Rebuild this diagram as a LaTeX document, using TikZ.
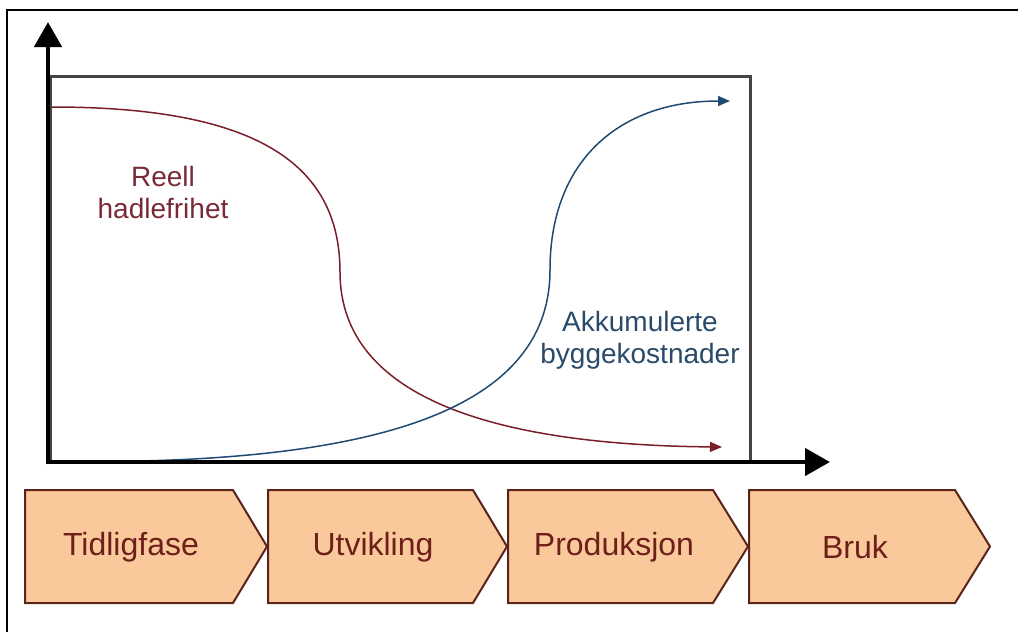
\documentclass[tikz,border=0pt]{standalone}
\usepackage{fontspec}
\setmainfont{Liberation Sans}
\usetikzlibrary{arrows.meta}
\definecolor{chevfill}{HTML}{F9C99C}
\definecolor{chevline}{HTML}{5A2418}
\definecolor{chevtext}{HTML}{6E1F1A}
\definecolor{redcurve}{HTML}{7A1E2A}
\definecolor{bluecurve}{HTML}{1F4A72}
\definecolor{redlabel}{HTML}{7A2A35}
\definecolor{bluelabel}{HTML}{2A4A6A}
\definecolor{framegray}{HTML}{444444}
\tikzset{
  chev/.style={draw=chevline, fill=chevfill, line width=2pt, line join=miter},
  chevlabel/.style={text=chevtext, font=\fontsize{32}{36}\selectfont, inner sep=0pt},
  axis/.style={line width=4.5pt, -{Triangle[length=25pt,width=27pt]}},
  curvelabel/.style={font=\fontsize{28}{32}\selectfont, align=center, inner sep=0pt},
  curve/.style={line width=1.5pt, -{Triangle[length=12pt,width=10pt]}}
}
\begin{document}
\begin{tikzpicture}[x=1pt,y=-1pt]
\useasboundingbox (0,0) rectangle (1018,632);
% outer frame (left and top only)
\draw[line width=2pt] (7,632) -- (7,10) -- (1018,10);
% inner rectangle
\draw[framegray, line width=3pt] (50,462) -- (50,76) -- (750,76) -- (750,462);
% curves
\coordinate (r0) at (52,107);
\coordinate (r1) at (340,272);
\coordinate (r2) at (722,447);
\draw[curve, redcurve] (r0) .. controls (250,107) and (340,160) .. (r1)
   .. controls (340,400) and (500,445) .. (r2);
\coordinate (b0) at (140,461);
\coordinate (b1) at (550,270);
\coordinate (b2) at (730,101);
\draw[curve, bluecurve] (b0) .. controls (400,455) and (550,400) .. (b1)
   .. controls (550,160) and (620,101) .. (b2);
% axes
\coordinate (ytip) at (48,22);
\coordinate (xtip) at (830,462);
\draw[axis] (48,464) -- (ytip);
\draw[axis] (46,462) -- (xtip);
% labels
\node[curvelabel, text=redlabel] (reell) at (163,192) {Reell\\hadlefrihet};
\node[curvelabel, text=bluelabel] (akk) at (640,340) {Akkumulerte\\byggekostnader};
% chevrons
\draw[chev] (25,490) -- (233,490) -- (267,546.5) -- (233,603) -- (25,603) -- cycle;
\draw[chev] (268,490) -- (473,490) -- (507,546.5) -- (473,603) -- (268,603) -- cycle;
\draw[chev] (508,490) -- (713,490) -- (748,546.5) -- (713,603) -- (508,603) -- cycle;
\draw[chev] (749,490) -- (955,490) -- (990,546.5) -- (955,603) -- (749,603) -- cycle;
\node[chevlabel] (c1) at (131,547) {Tidligfase};
\node[chevlabel] (c2) at (373,547) {Utvikling};
\node[chevlabel] (c3) at (614,547) {Produksjon};
\node[chevlabel] (c4) at (855,547) {Bruk};
\end{tikzpicture}
\end{document}
